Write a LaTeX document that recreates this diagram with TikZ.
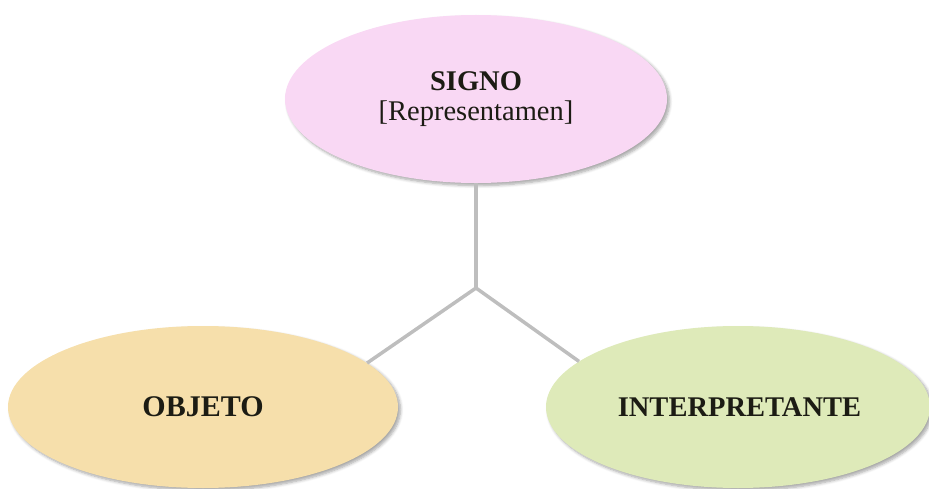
\documentclass[tikz,border=0pt]{standalone}
\usepackage{fontspec}
\setmainfont{Liberation Serif}
\usetikzlibrary{shapes.geometric,shadows.blur}
\definecolor{signofill}{HTML}{F9D8F4}
\definecolor{objfill}{HTML}{F6DFAB}
\definecolor{intfill}{HTML}{DEEAB9}
\definecolor{linkgray}{HTML}{BEBEBE}
\definecolor{inkdark}{HTML}{1C1C14}
\begin{document}
\begin{tikzpicture}[x=1pt,y=-1pt,
  blob/.style={ellipse,inner sep=0pt,text=inkdark,
    blur shadow={shadow xshift=2.5pt,shadow yshift=-2.5pt,shadow opacity=35,shadow blur steps=6,shadow blur radius=3pt}},
  lbl/.style={font=\fontsize{28.5}{30}\selectfont,align=center},
  link/.style={draw=linkgray,line width=3.5pt}]
  \useasboundingbox (0,0) rectangle (929,489);
  % the three corners of the sign
  \node[blob,lbl,fill=signofill,minimum width=382pt,minimum height=168pt] (sig) at (476,99)
    {\textbf{SIGNO}\\{}[Representamen]};
  \node[blob,lbl,fill=objfill,minimum width=390pt,minimum height=162pt] (obj) at (203,407)
    {\fontsize{30}{32}\selectfont\textbf{OBJETO}};
  \node[blob,lbl,fill=intfill,minimum width=384pt,minimum height=162pt] (int) at (738,407)
    {\hspace*{3pt}\textbf{INTERPRETANTE}};
  % branching connector
  \coordinate (j) at (476,288);
  \draw[link] (sig.south) -- (j);
  \draw[link] (j) -- (obj.15);
  \draw[link] (j) -- (int.164);
\end{tikzpicture}
\end{document}
